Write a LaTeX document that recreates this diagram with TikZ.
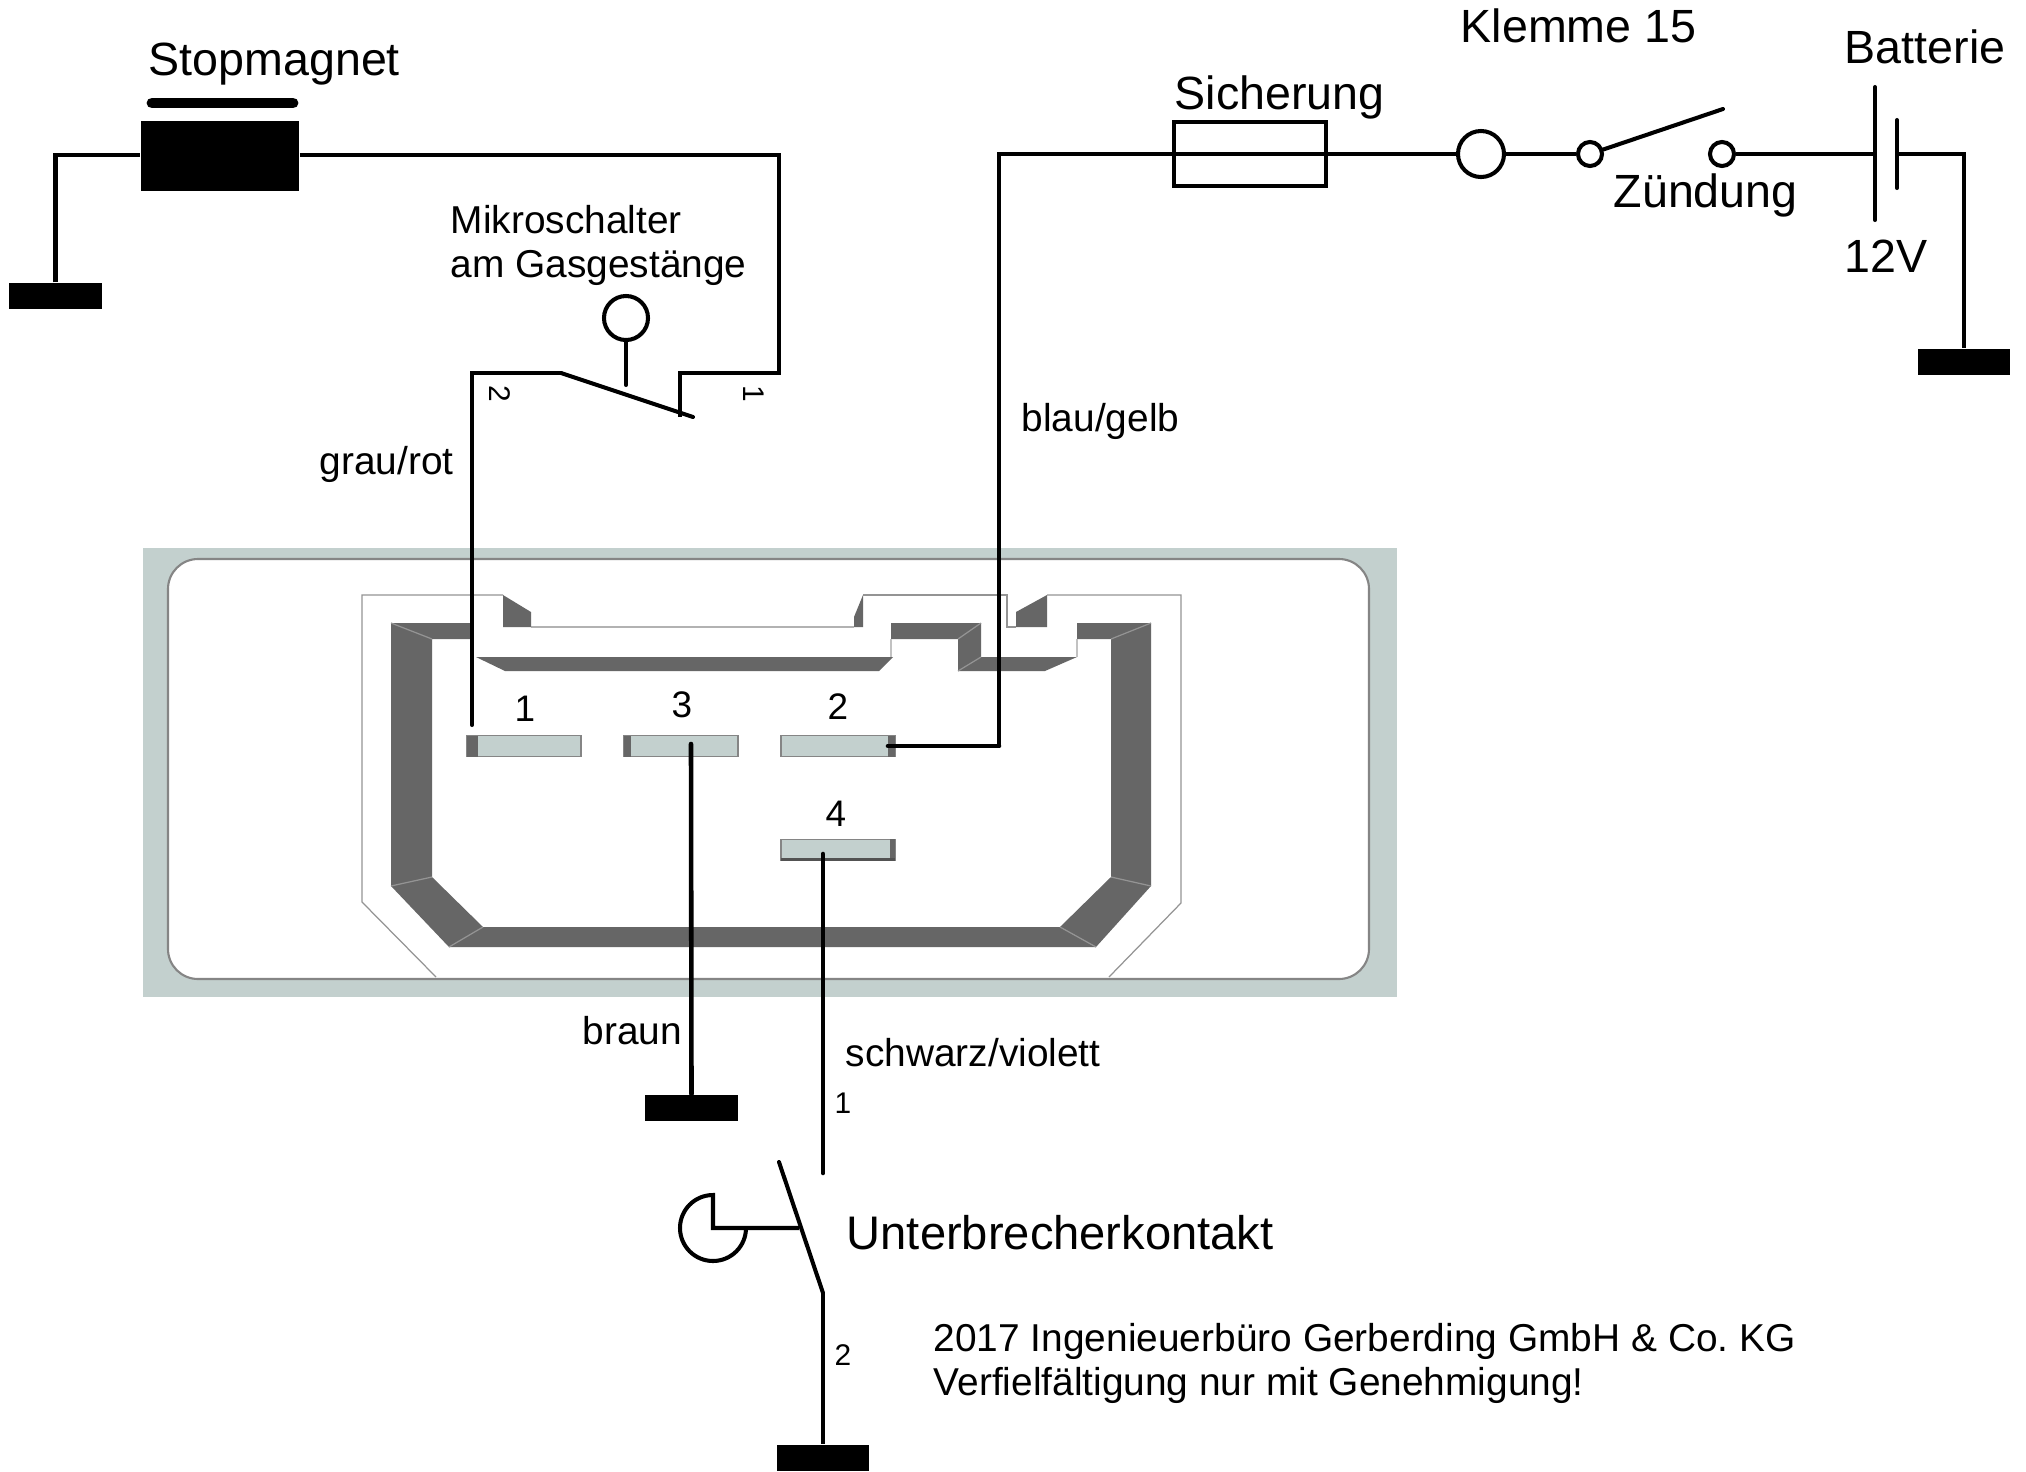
\documentclass[tikz,border=0pt]{standalone}
\usepackage{fontspec}
\setmainfont{Liberation Sans}
\definecolor{gehaeuse}{HTML}{C3D0CE}
\definecolor{kante}{HTML}{666666}
\tikzset{
  wire/.style={line width=1.15pt,line join=miter},
  tip/.style={wire,line cap=round},
  pinwire/.style={line width=1.3pt,line cap=round},
  thinedge/.style={draw=kante!70,line width=0.35pt},
  gndbar/.style={rectangle,fill=black,inner sep=0pt,minimum width=0.92cm,minimum height=0.26cm},
  terminal/.style={circle,draw,line width=1.15pt,inner sep=0pt,minimum size=0.24cm},
  pin/.style={rectangle,fill=gehaeuse,draw=kante!80,line width=0.35pt,inner sep=0pt,minimum width=1.14cm,minimum height=0.21cm},
  bigtxt/.style={font=\fontsize{13.25}{15}\selectfont,anchor=base west,inner sep=0pt},
  midtxt/.style={font=\fontsize{11.05}{13}\selectfont,anchor=base west,inner sep=0pt},
  pintxt/.style={font=\fontsize{10.5}{12}\selectfont,inner sep=0pt},
  tinytxt/.style={font=\fontsize{8.5}{10}\selectfont,inner sep=0pt}
}
\frenchspacing
\begin{document}
\begin{tikzpicture}[x=0.01cm,y=-0.01cm]
\useasboundingbox (0,0) rectangle (2026,1472);
% housing
\fill[gehaeuse] (143,548) rectangle (1397,997);
\draw[fill=white,draw=kante!80,line width=0.6pt,rounded corners=0.3cm] (168,559) rectangle (1369,979);
% plug outline
\draw[thinedge] (503,595) -- (362,595) -- (362,902) -- (436,977);
\draw[draw=kante!50,line width=0.55pt] (531,627) -- (854,627);
\draw[thinedge] (863,595) -- (1007,595) -- (1007,627) -- (1016,627);
\draw[thinedge] (1047,595) -- (1181,595) -- (1181,903) -- (1109,977);
\fill[kante] (503,595) -- (531,612) -- (531,627) -- (503,627) -- cycle;
\fill[kante] (854,627) -- (854,617) -- (863,595) -- (863,627) -- cycle;
\fill[kante] (1016,627) -- (1016,612) -- (1047,595) -- (1047,627) -- cycle;
% plug wall
\fill[kante] (471,623) -- (391,623) -- (391,886) -- (449,947) -- (1096,947) -- (1151,886) -- (1151,623) -- (1077,623) -- (1077,639) -- (1111,639) -- (1111,877) -- (1060,927) -- (483,927) -- (432,877) -- (432,639) -- (471,639) -- cycle;
\fill[kante] (476,657) -- (505,671) -- (879,671) -- (893,657) -- cycle;
\fill[kante] (891,623) -- (981,623) -- (981,657) -- (1077,657) -- (1045,671) -- (958,671) -- (958,639) -- (891,639) -- cycle;
\draw[thinedge] (391,886) -- (432,877);
\draw[thinedge] (449,947) -- (483,927);
\draw[thinedge] (1096,947) -- (1060,927);
\draw[thinedge] (1151,886) -- (1111,877);
\draw[thinedge] (391,623) -- (432,639);
\draw[thinedge] (1151,623) -- (1111,639);
\draw[thinedge] (981,623) -- (958,639);
\draw[thinedge] (981,657) -- (958,671);
\draw[draw=kante!40,line width=0.35pt] (1077,639) -- (1077,657);
\draw[draw=kante!40,line width=0.35pt] (891,639) -- (891,657);
% contacts
\node[pin] (pinA) at (524,746) {};
\node[pin] (pinC) at (681,746) {};
\node[pin] (pinB) at (838,746) {};
\node[pin] (pinD) at (838,850) {};
\fill[kante] (467,736) rectangle (478,757);
\fill[kante] (624,736) rectangle (631,757);
\fill[kante] (888,736) rectangle (895,757);
\fill[kante] (890,839) rectangle (895,861);
\fill[kante!80!black] (781,858) rectangle (895,861);
\node[pintxt] (numA) at (525,709) {1};
\node[pintxt] (numC) at (682,705) {3};
\node[pintxt] (numB) at (838,707) {2};
\node[pintxt] (numD) at (836,814) {4};
% stop solenoid
\node[rectangle,fill=black,inner sep=0pt,minimum width=1.58cm,minimum height=0.70cm] (stopcoil) at (220,156) {};
\draw[line width=3.1pt,line cap=round] (152,103) -- (293,103);
\node[gndbar] (gndA) at (55.5,296) {};
\coordinate (eckA) at (55.5,155);
\coordinate (eckB) at (779,155);
\coordinate (eckC) at (779,373);
\coordinate (eckD) at (680,373);
\coordinate (mskontakt) at (680,417);
\coordinate (msdreh) at (561,373);
\coordinate (msende) at (693,417);
\coordinate (eckE) at (472,373);
\coordinate (endeA) at (472,725);
\draw[wire] (gndA.north -| eckA) -- (eckA) -- (stopcoil.west |- eckA);
\draw[wire] (stopcoil.east |- eckB) -- (eckB) -- (eckC) -- (eckD) -- (mskontakt);
\draw[tip] (msdreh) -- (msende);
\draw[tip] (endeA) -- (eckE) -- (msdreh);
% micro switch
\node[circle,draw,line width=1.15pt,inner sep=0pt,minimum size=0.44cm] (msrolle) at (626,318) {};
\coordinate (msstoss) at (626,385);
\draw[tip] (msrolle) -- (msstoss);
% supply side
\node[rectangle,draw,line width=1.15pt,inner sep=0pt,minimum width=1.52cm,minimum height=0.64cm] (fuse) at (1250,154) {};
\node[circle,draw,line width=1.15pt,inner sep=0pt,minimum size=0.46cm] (kl15) at (1481,154) {};
\node[terminal] (zuendA) at (1590,154) {};
\node[terminal] (zuendB) at (1722,154) {};
\coordinate (zuendarm) at (1723,109);
\coordinate (pinBend) at (888,746);
\coordinate (eckF) at (999,746);
\coordinate (eckG) at (999,154);
\draw[pinwire] (pinBend) -- (eckF);
\draw[wire] (eckF) -- (eckG) -- (kl15);
\draw[wire] (kl15) -- (zuendA);
\draw[tip] (zuendA) -- (zuendarm);
% battery
\coordinate (batA) at (1875,154);
\coordinate (batB) at (1897,154);
\coordinate (eckH) at (1964,154);
\node[gndbar] (gndB) at (1964,362) {};
\draw[wire] (zuendB) -- (batA);
\draw[tip] (1875,87) -- (1875,220);
\draw[tip] (1897,120) -- (1897,188);
\draw[wire] (batB) -- (eckH) -- (gndB.north);
% housing to ground
\node[gndbar] (gndC) at (691.5,1108) {};
\coordinate (pinCmid) at (691,744);
\draw[pinwire] (pinCmid) -- (gndC.north);
% breaker
\coordinate (pinDmid) at (823,854);
\coordinate (brkoben) at (823,1173);
\coordinate (brkdreh) at (823,1293);
\coordinate (brkende) at (779,1162);
\coordinate (cammitte) at (713,1228);
\coordinate (camstoss) at (799,1228);
\node[gndbar] (gndD) at (823,1457.5) {};
\draw[pinwire] (pinDmid) -- (brkoben);
\draw[tip] (brkende) -- (brkdreh);
\draw[wire] (brkdreh) -- (gndD.north);
\draw[wire,line join=miter] (camstoss) -- (cammitte) -- (713,1195) arc[start angle=-90,end angle=-360,radius=33];
% labels
\node[bigtxt] (txtstop) at (148,75) {Stopmagnet};
\node[bigtxt] (txtkl) at (1460,42) {Klemme 15};
\node[bigtxt] (txtbat) at (1844,63) {Batterie};
\node[bigtxt] (txtfuse) at (1174,109) {Sicherung};
\node[bigtxt] (txtzuend) at (1613,207) {Zündung};
\node[bigtxt] (txtvolt) at (1844,272) {12V};
\node[midtxt] (txtmsA) at (450,233) {Mikroschalter};
\node[midtxt] (txtmsB) at (450,277) {am Gasgestänge};
\node[midtxt] (txtgrau) at (319,474) {grau/rot};
\node[midtxt] (txtblau) at (1021,431) {blau/gelb};
\node[midtxt] (txtbraun) at (582,1044) {braun};
\node[midtxt] (txtschwarz) at (845,1066) {schwarz/violett};
\node[font=\fontsize{13.4}{16}\selectfont,anchor=base west,inner sep=0pt] (txtbrk) at (846,1249) {Unterbrecherkontakt};
\node[midtxt] (txtcopyA) at (933,1351) {2017 Ingenieuerbüro Gerberding GmbH \& Co. KG};
\node[midtxt] (txtcopyB) at (933,1395) {Verfielfältigung nur mit Genehmigung!};
\node[tinytxt] (wireA) at (843,1103) {1};
\node[tinytxt] (wireB) at (843,1355) {2};
\node[tinytxt,rotate=-90] (msA) at (500,394) {2};
\node[tinytxt,rotate=-90] (msB) at (754,394) {1};
\end{tikzpicture}
\end{document}
